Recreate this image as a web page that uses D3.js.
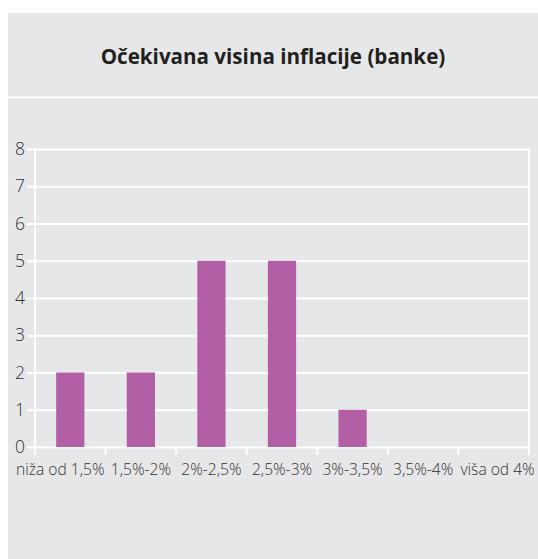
<!DOCTYPE html>
<html><head><meta charset="utf-8">
<script src="https://cdn.jsdelivr.net/npm/d3@7"></script>
<style>
html,body{margin:0;padding:0;background:#fff;}
svg{display:block;}
</style></head>
<body>
<svg id="chart" width="538" height="559"></svg>
<script>
const title = "Očekivana visina inflacije (banke)";
const categories = ["niža od 1,5%", "1,5%-2%", "2%-2,5%", "2,5%-3%", "3%-3,5%", "3,5%-4%", "viša od 4%"];
const values = [2, 2, 5, 5, 1, 0, 0];
const yTicks = [0, 1, 2, 3, 4, 5, 6, 7, 8];

const W = 538, H = 559;
const svg = d3.select("#chart");
const bg = "#e6e7e8";
const textColor = "#333333";
const font = "'Open Sans', 'Noto Sans', sans-serif";

svg.append("rect").attr("x", 8).attr("y", 13).attr("width", W - 8).attr("height", H - 13).attr("fill", bg);
svg.append("rect").attr("x", 8).attr("y", 96.5).attr("width", W - 8).attr("height", 2).attr("fill", "#fff");

svg.append("text").attr("x", 273).attr("y", 64)
  .attr("text-anchor", "middle").attr("font-family", font).attr("font-weight", 700)
  .attr("font-size", 20.6).attr("fill", "#231f20").text(title);

const m = {left: 35, right: 529, top: 149, bottom: 447};
const x = d3.scaleBand().domain(categories).range([m.left, m.right]).paddingInner(0.6).paddingOuter(0.3);
const xTickScale = d3.scaleBand().domain(categories).range([m.left, m.right]);
const y = d3.scaleLinear().domain([0, 8]).range([m.bottom, m.top]);

// gridlines
const gy = svg.append("g").attr("transform", `translate(${m.left},0)`)
  .call(d3.axisLeft(y).tickValues(yTicks).tickSize(-(m.right - m.left)).tickSizeOuter(0).tickPadding(10));
gy.select(".domain").remove();
gy.selectAll(".tick line").attr("stroke", "#fff").attr("stroke-width", 2);
gy.selectAll(".tick text").attr("font-family", font).attr("font-weight", 300).attr("font-size", 17.5).attr("fill", textColor);
gy.selectAll(".tick").append("line").attr("x1", -8).attr("x2", 0).attr("stroke", "#fff").attr("stroke-width", 2);

// vertical frame lines
svg.append("line").attr("x1", m.left).attr("x2", m.left).attr("y1", m.top - 1).attr("y2", m.bottom + 8).attr("stroke", "#fff").attr("stroke-width", 2);
svg.append("line").attr("x1", m.right).attr("x2", m.right).attr("y1", m.top - 1).attr("y2", m.bottom + 8).attr("stroke", "#fff").attr("stroke-width", 2);

// bars
svg.append("g").selectAll("rect").data(values).join("rect")
  .attr("x", (d, i) => x(categories[i]))
  .attr("width", x.bandwidth())
  .attr("y", d => y(d))
  .attr("height", d => y(0) - y(d))
  .attr("fill", "#b25fa5");

// x axis
const gx = svg.append("g").attr("transform", `translate(0,${m.bottom})`)
  .call(d3.axisBottom(xTickScale).tickSize(0).tickPadding(17));
gx.select(".domain").remove();
gx.selectAll(".tick text").attr("font-family", font).attr("font-weight", 300).attr("font-size", 15.6).attr("fill", textColor);
const half = xTickScale.bandwidth() / 2;
// first label ends at its band's right edge; last label starts at its band's left edge
gx.selectAll(".tick text").filter((d, i) => i === 0).attr("text-anchor", "end").attr("x", half - 1);
gx.selectAll(".tick text").filter((d, i) => i === categories.length - 1).attr("text-anchor", "start").attr("x", -half + 2);
const bounds = categories.map(c => xTickScale(c)).concat([m.right]);
svg.append("g").selectAll("line").data(bounds).join("line")
  .attr("x1", d => d).attr("x2", d => d).attr("y1", m.bottom).attr("y2", m.bottom + 8)
  .attr("stroke", "#fff").attr("stroke-width", 2);
</script>
</body></html>
